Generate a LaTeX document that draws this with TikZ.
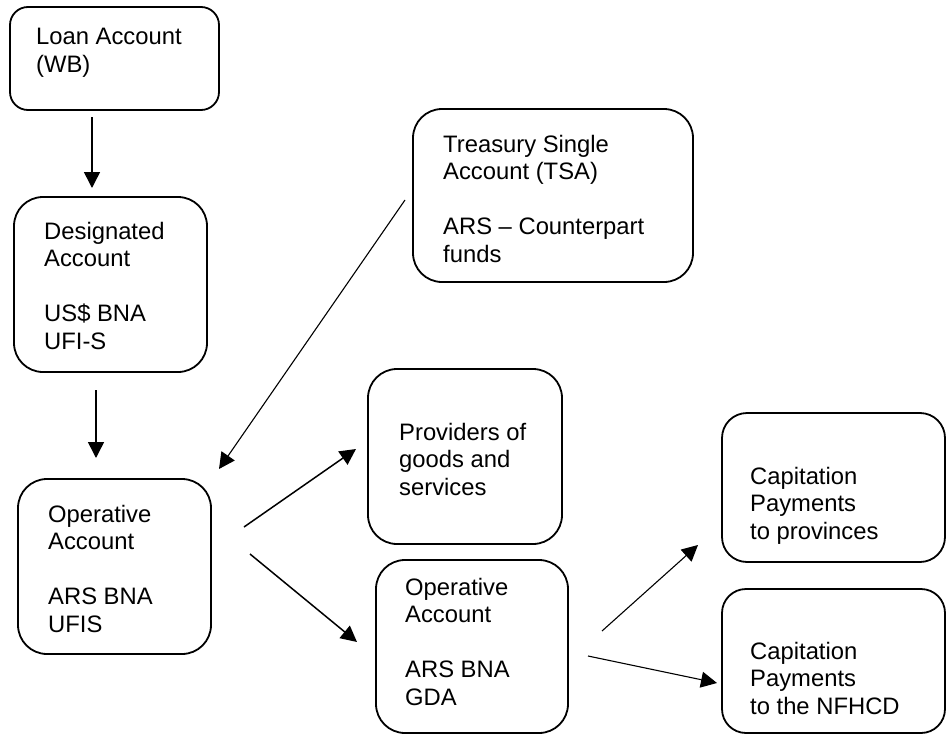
\documentclass[tikz,border=0pt]{standalone}
\usepackage{fontspec}
\setmainfont{Liberation Sans}
\usetikzlibrary{arrows.meta}
\begin{document}
\begin{tikzpicture}[x=1pt,y=-1pt,
  box/.style={draw=black, line width=1.8pt, rounded corners=29pt, rectangle, inner sep=0pt, fill=none},
  txt/.style={anchor=north west, inner sep=0pt, align=left, font=\fontsize{23.8}{27.5}\selectfont},
  arr/.style={draw=black, line width=1.5pt, -{Triangle[length=16pt,width=16pt]}},
  thinarr/.style={draw=black, line width=1.1pt, -{Triangle[length=16pt,width=16pt]}}]
\useasboundingbox (0,0) rectangle (946,736);
% boxes
\node[box, rounded corners=18pt, minimum width=209pt, minimum height=103pt] (loan) at (114.5,58.5) {};
\node[box, minimum width=193pt, minimum height=175pt] (desig) at (110.5,284.5) {};
\node[box, minimum width=280pt, minimum height=173pt] (tsa) at (553,195.5) {};
\node[box, minimum width=193pt, minimum height=175pt] (opl) at (114.5,566.5) {};
\node[box, minimum width=194pt, minimum height=175pt] (prov) at (465,456.5) {};
\node[box, minimum width=192pt, minimum height=173pt] (gda) at (472,646.5) {};
\node[box, rounded corners=25pt, minimum width=223pt, minimum height=149pt] (capp) at (833.5,487.5) {};
\node[box, rounded corners=24pt, minimum width=223pt, minimum height=144pt] (capn) at (833.5,661) {};
% texts
\node[txt] (tloan) at (36,28) {Loan Account\\(WB)};
\node[txt] (tdesig) at (44,222) {Designated\\Account\\[27.5pt]US\$ BNA\\UFI-S};
\node[txt] (ttsa) at (443,135) {Treasury Single\\Account (TSA)\\[27.5pt]ARS – Counterpart\\funds};
\node[txt] (topl) at (48,505) {Operative\\Account\\[27.5pt]ARS BNA\\UFIS};
\node[txt] (tprov) at (399,423) {Providers of\\goods and\\services};
\node[txt] (tgda) at (405,578) {Operative\\Account\\[27.5pt]ARS BNA\\GDA};
\node[txt] (tcapp) at (750,467) {Capitation\\Payments\\to provinces};
\node[txt] (tcapn) at (750,642) {Capitation\\Payments\\to the NFHCD};
% connector end points
\coordinate (a1s) at (92,117);  \coordinate (a1e) at (92,188);
\coordinate (a2s) at (96,390);  \coordinate (a2e) at (96,458);
\coordinate (a3s) at (405,200); \coordinate (a3e) at (219,469);
\coordinate (a4s) at (244,527); \coordinate (a4e) at (356,449);
\coordinate (a5s) at (250,554); \coordinate (a5e) at (357,642);
\coordinate (a6s) at (602,631); \coordinate (a6e) at (698,545);
\coordinate (a7s) at (588,656); \coordinate (a7e) at (717,683);
\draw[arr] (a1s) -- (a1e);
\draw[arr] (a2s) -- (a2e);
\draw[thinarr] (a3s) -- (a3e);
\draw[arr] (a4s) -- (a4e);
\draw[arr] (a5s) -- (a5e);
\draw[thinarr] (a6s) -- (a6e);
\draw[thinarr] (a7s) -- (a7e);
\end{tikzpicture}
\end{document}
